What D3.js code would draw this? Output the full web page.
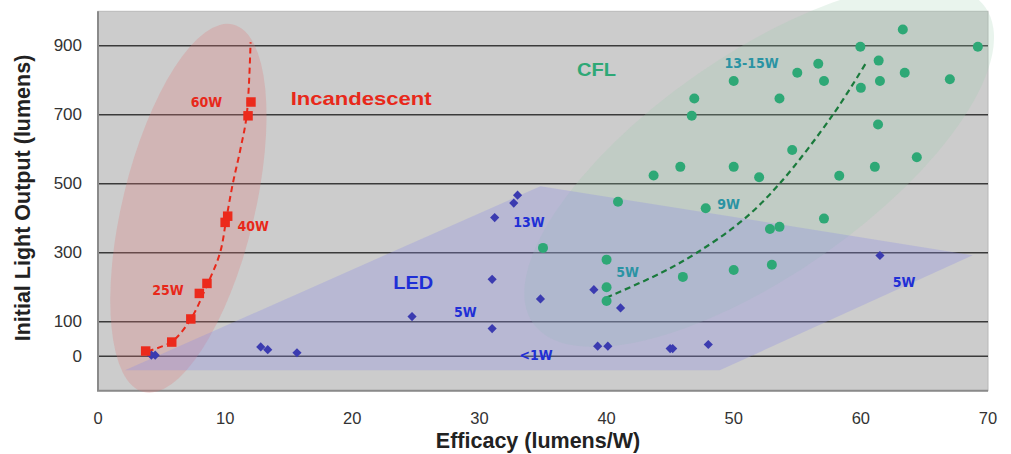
<!DOCTYPE html>
<html>
<head>
<meta charset="utf-8">
<script src="https://cdn.jsdelivr.net/npm/d3@7"></script>
<style>
  body { margin: 0; background: #fff; }
  text { font-family: "Liberation Sans", Arial, sans-serif; }
  .lbl { font-family: "DejaVu Sans Condensed", "Liberation Sans", sans-serif; font-stretch: condensed; font-weight: bold; }
</style>
</head>
<body>
<div id="root"></div>
<script>
// data: [efficacy (lm/W), light output (lm)]
const incandescent = [
  [3.75, 15], [5.8, 41], [7.3, 108], [7.97, 182], [8.57, 211],
  [10.0, 388], [10.2, 406], [11.8, 697], [12.03, 737]
];
const led = [
  [4.2, 3], [4.5, 3], [12.8, 27], [13.35, 19], [15.65, 10], [24.7, 115],
  [31.0, 223], [31.0, 80], [31.2, 402], [32.7, 444], [33.0, 467],
  [34.8, 166], [39.0, 193], [41.1, 140], [39.3, 29], [40.1, 29],
  [45.0, 22], [45.2, 22], [48.0, 34], [61.5, 292]
];
const cfl = [
  [35.0, 314], [40.0, 280], [40.0, 200], [40.0, 160], [40.9, 448], [43.7, 524],
  [45.8, 549], [46.0, 230], [46.7, 697], [46.9, 747], [47.8, 429], [50.0, 798],
  [50.0, 549], [50.0, 250], [52.0, 519], [52.85, 369], [53.0, 265], [53.6, 375],
  [53.6, 747], [54.6, 598], [55.0, 822], [56.65, 848], [57.1, 798], [57.1, 399],
  [58.3, 523], [59.96, 897], [60.0, 778], [61.1, 549], [61.35, 672], [61.4, 857],
  [61.5, 798], [63.3, 947], [63.45, 822], [64.4, 577], [67.0, 803], [69.2, 897]
];
const incTrend = [
  [3.9, 15], [5.8, 42], [7.3, 108], [8.5, 200], [9.6, 300], [10.1, 400],
  [10.6, 500], [11.2, 600], [11.7, 700], [12.0, 910]
];
const cflTrend = [
  [40, 170], [44.2, 240], [47.1, 300], [50.7, 394], [53.6, 500], [57.8, 700], [60.5, 856]
];
const ledRegion = [[2.12, -41], [34.8, 493], [68.8, 293], [48.9, -41]];
const incRegionTips = [[3.6, -104], [10.62, 962]];
const cflRegionTips = [[34.2, 96], [69.8, 1011]];

const xTicks = [0, 10, 20, 30, 40, 50, 60, 70];
const yTicks = [0, 100, 300, 500, 700, 900];

const incLabels = [['60W', 8.53, 736], ['40W', 12.2, 377], ['25W', 5.5, 191]];
const cflLabels = [['13-15W', 51.4, 849], ['9W', 49.6, 441], ['5W', 41.65, 243]];
const ledLabels = [['13W', 33.9, 388], ['5W', 28.9, 128], ['<1W', 34.45, 3], ['5W', 63.4, 215]];
const groupLabels = [
  ['Incandescent', 20.7, 748, '#e8281a', 141],
  ['CFL', 39.2, 832, '#2ea876', 39],
  ['LED', 24.8, 214, '#1f2fd6', 40]
];

const W = 1011, H = 454;
const plot = { left: 98, right: 988, top: 11.3, bottom: 390.7 };

const svg = d3.select('#root').append('svg')
  .attr('width', W).attr('height', H);

const x = d3.scaleLinear().domain([0, 70]).range([plot.left, plot.right]);
const y = d3.scaleLinear().domain([-100, 1000]).range([plot.bottom, plot.top]);

// plot background
svg.append('rect')
  .attr('x', plot.left).attr('y', plot.top)
  .attr('width', plot.right - plot.left).attr('height', plot.bottom - plot.top)
  .attr('fill', '#cccccc').attr('stroke', '#b8b8b8');

// gridlines
svg.append('g').selectAll('line').data(yTicks).join('line')
  .attr('x1', plot.left).attr('x2', plot.right)
  .attr('y1', d => y(d)).attr('y2', d => y(d))
  .attr('stroke', '#3a3a3a').attr('stroke-width', 1.6);

// left / bottom frame
svg.append('path')
  .attr('d', `M${plot.left},${plot.top}V${plot.bottom}H${plot.right}`)
  .attr('fill', 'none').attr('stroke', '#8a8a8a').attr('stroke-width', 2);

// an ellipse given its two tips in data units and its half width in px
function tipEllipse(tips, halfW) {
  const [p, q] = tips.map(t => [x(t[0]), y(t[1])]);
  const cx = (p[0] + q[0]) / 2, cy = (p[1] + q[1]) / 2;
  const a = Math.hypot(q[0] - p[0], q[1] - p[1]) / 2;
  const ang = Math.atan2(q[1] - p[1], q[0] - p[0]) * 180 / Math.PI;
  return svg.append('ellipse')
    .attr('cx', 0).attr('cy', 0).attr('rx', a).attr('ry', halfW)
    .attr('transform', `translate(${cx},${cy}) rotate(${ang})`);
}

tipEllipse(incRegionTips, 66).attr('fill', '#e07a7a').attr('fill-opacity', 0.28);
tipEllipse(cflRegionTips, 110).attr('fill', '#9ccfae').attr('fill-opacity', 0.22);
svg.append('path')
  .attr('d', d3.line().x(d => x(d[0])).y(d => y(d[1]))(ledRegion) + 'Z')
  .attr('fill', '#8c8ce6').attr('fill-opacity', 0.3);

// trend lines
const trend = d3.line().x(d => x(d[0])).y(d => y(d[1])).curve(d3.curveCatmullRom);
svg.append('path').attr('d', trend(incTrend))
  .attr('fill', 'none').attr('stroke', '#e8281a').attr('stroke-width', 2).attr('stroke-dasharray', '6,4');
svg.append('path').attr('d', trend(cflTrend))
  .attr('fill', 'none').attr('stroke', '#1a7a3c').attr('stroke-width', 2.2).attr('stroke-dasharray', '6,4');

// points
svg.append('g').selectAll('path').data(led).join('path')
  .attr('d', d3.symbol(d3.symbolSquare, 42))
  .attr('transform', d => `translate(${x(d[0])},${y(d[1])}) rotate(45)`)
  .attr('fill', '#3b3bb0');
svg.append('g').selectAll('circle').data(cfl).join('circle')
  .attr('cx', d => x(d[0])).attr('cy', d => y(d[1])).attr('r', 5)
  .attr('fill', '#2ea876');
svg.append('g').selectAll('path').data(incandescent).join('path')
  .attr('d', d3.symbol(d3.symbolSquare, 90))
  .attr('transform', d => `translate(${x(d[0])},${y(d[1])})`)
  .attr('fill', '#ec2a1c');

// annotations
function labels(list, color, size) {
  svg.append('g').selectAll('text').data(list).join('text')
    .attr('class', 'lbl')
    .attr('x', d => x(d[1])).attr('y', d => y(d[2]))
    .attr('text-anchor', 'middle').attr('dominant-baseline', 'central')
    .attr('font-size', size).attr('fill', color)
    .text(d => d[0]);
}
labels(incLabels, '#e8281a', 14);
labels(cflLabels, '#2a93a3', 14);
labels(ledLabels, '#1f2fd6', 14);

svg.append('g').selectAll('text').data(groupLabels).join('text')
  .attr('x', d => x(d[1]) - d[4] / 2).attr('y', d => y(d[2]))
  .attr('dominant-baseline', 'central')
  .attr('textLength', d => d[4]).attr('lengthAdjust', 'spacingAndGlyphs')
  .attr('font-size', 19).attr('font-weight', 'bold').attr('fill', d => d[3])
  .text(d => d[0]);

// tick labels
svg.append('g').selectAll('text').data(yTicks).join('text')
  .attr('x', plot.left - 16).attr('y', d => y(d))
  .attr('text-anchor', 'end').attr('dominant-baseline', 'central')
  .attr('font-size', 17).attr('fill', '#333')
  .text(d => d);
svg.append('g').selectAll('text').data(xTicks).join('text')
  .attr('x', d => x(d)).attr('y', 424)
  .attr('text-anchor', 'middle')
  .attr('font-size', 16.5).attr('fill', '#333')
  .text(d => d);

// axis titles
svg.append('text')
  .attr('x', 538).attr('y', 448)
  .attr('text-anchor', 'middle').attr('font-size', 21.5).attr('font-weight', 'bold').attr('fill', '#222')
  .text('Efficacy (lumens/W)');
svg.append('text')
  .attr('transform', 'translate(30,198) rotate(-90)')
  .attr('text-anchor', 'middle').attr('font-size', 21.5).attr('font-weight', 'bold').attr('fill', '#222')
  .text('Initial Light Output (lumens)');
</script>
</body>
</html>
